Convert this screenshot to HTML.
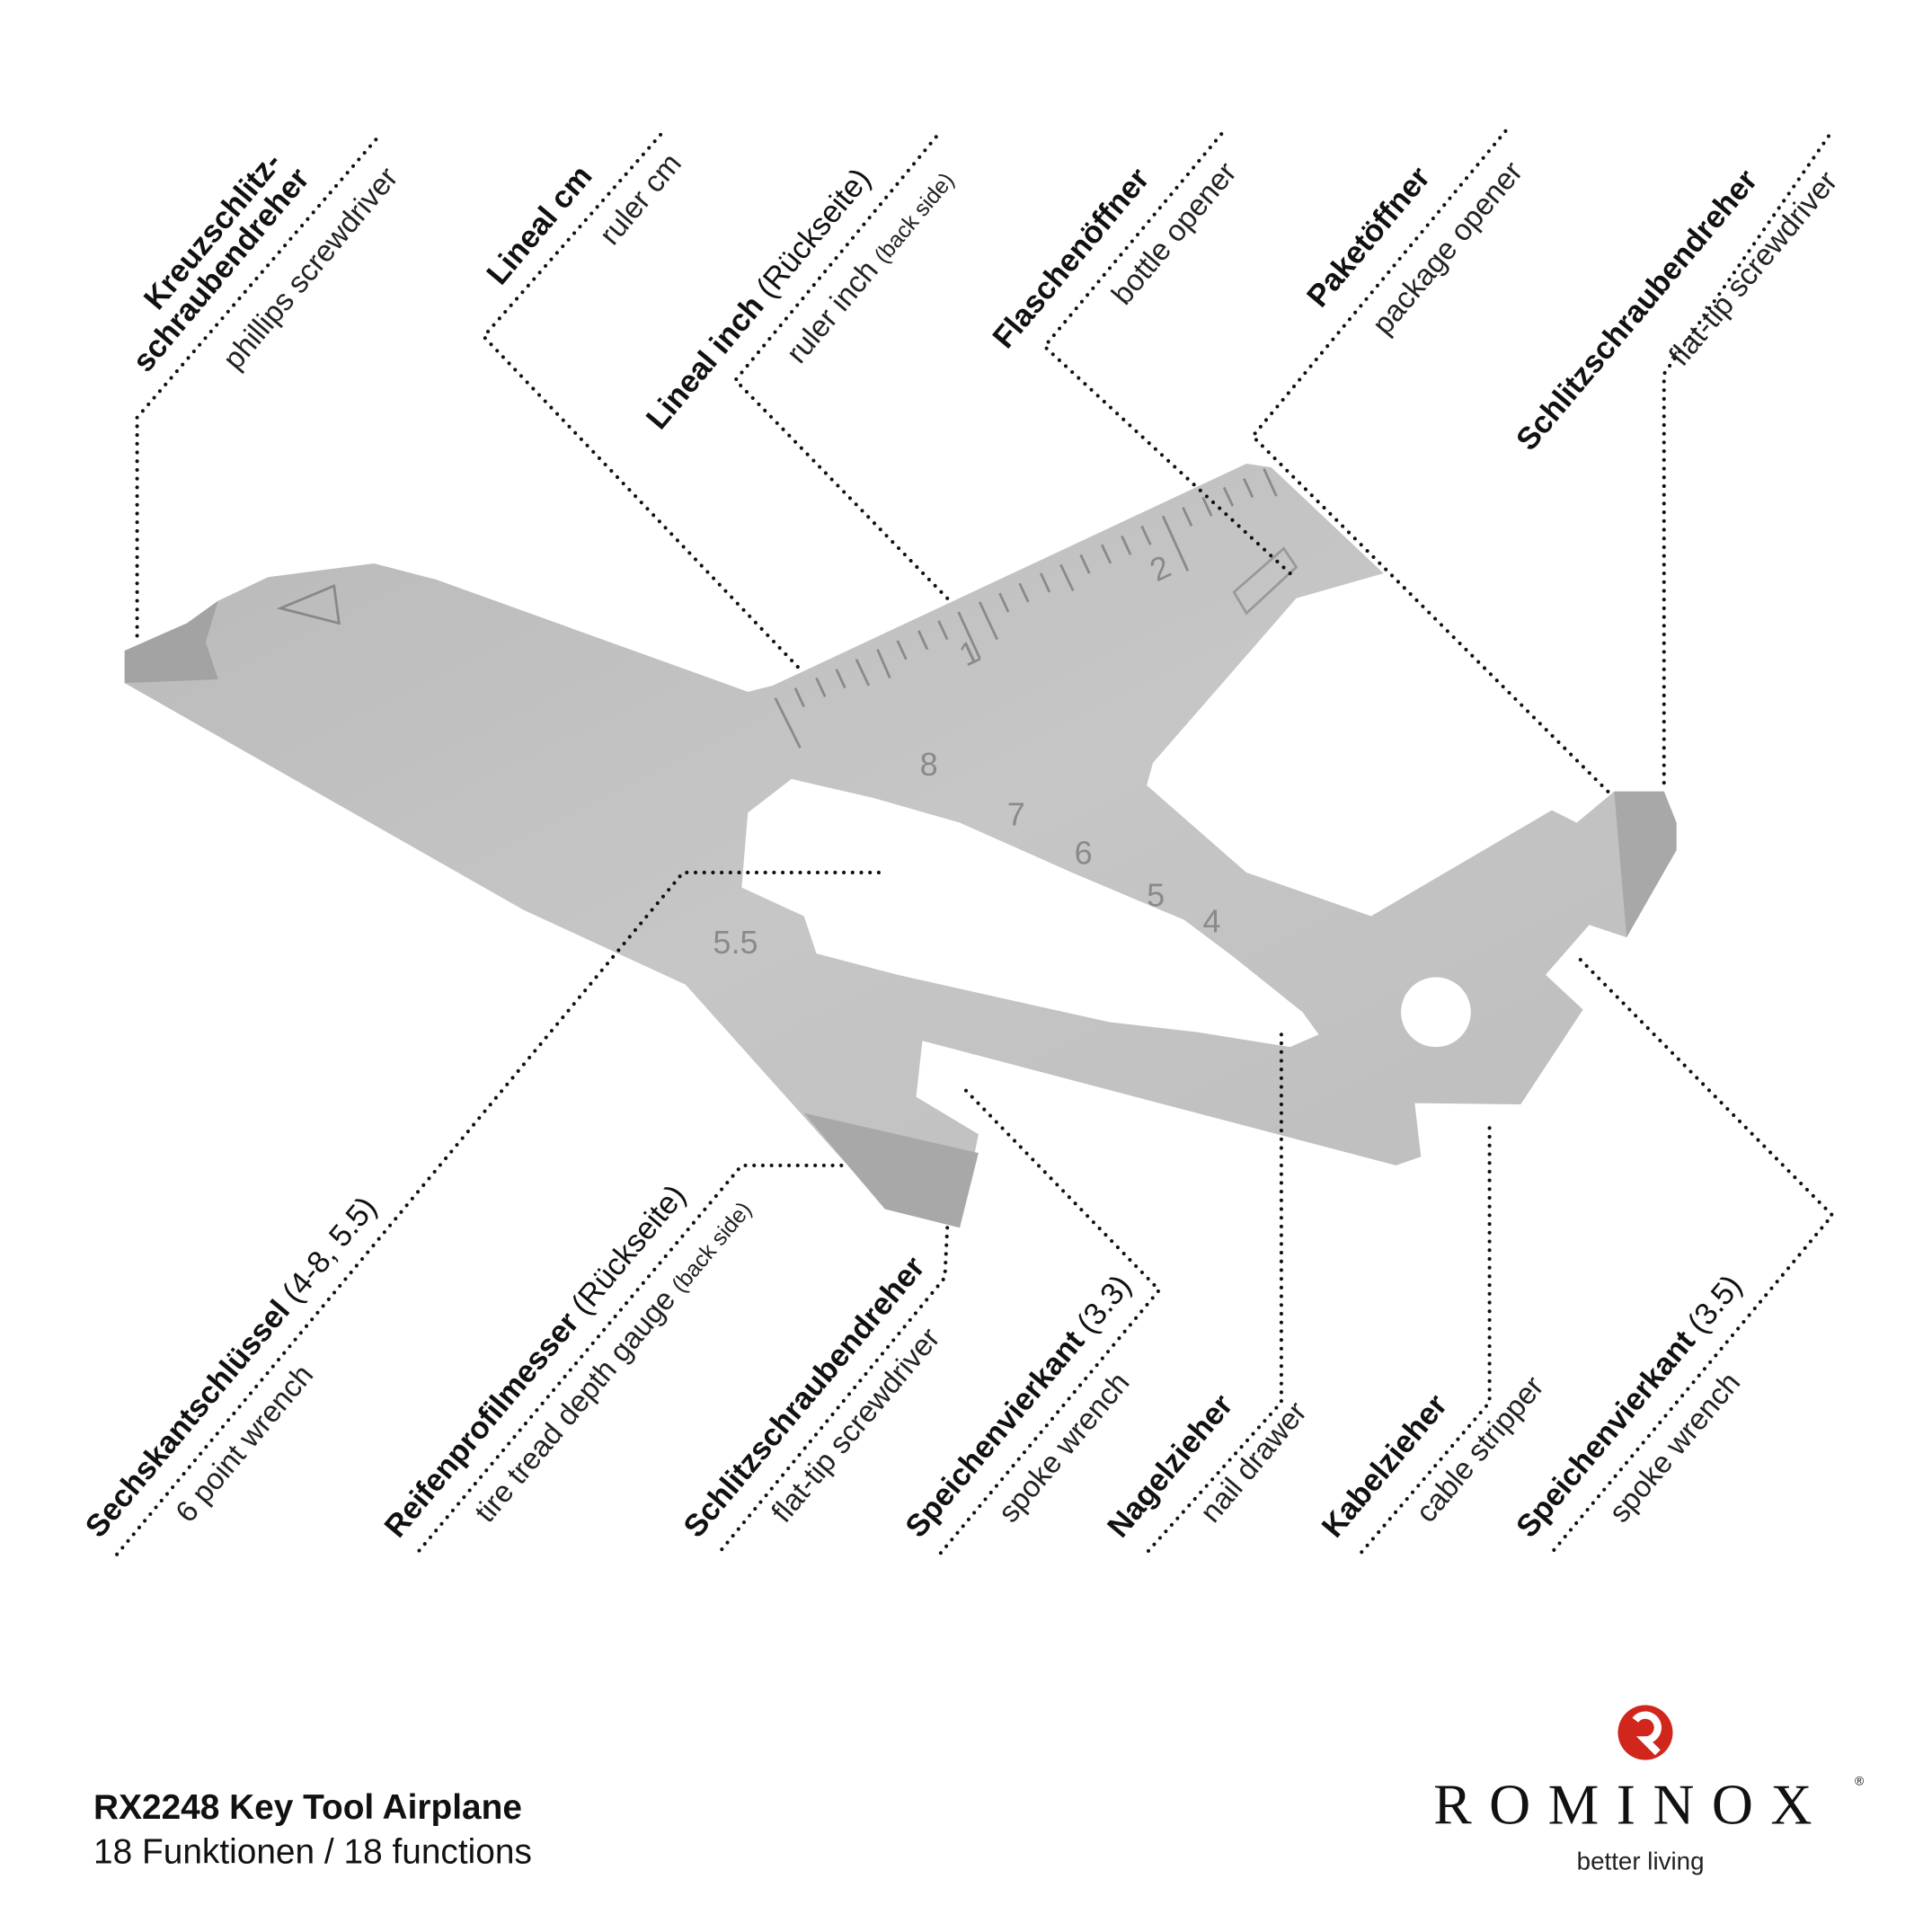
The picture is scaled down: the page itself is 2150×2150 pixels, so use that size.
<!DOCTYPE html>
<html><head><meta charset="utf-8"><style>html,body{margin:0;padding:0;background:#fff}svg{display:block}</style></head>
<body>
<svg width="2150" height="2150" viewBox="0 0 1550 1550" xmlns="http://www.w3.org/2000/svg" font-family="Liberation Sans, sans-serif">
<defs>
<linearGradient id="g" x1="0" y1="0" x2="1" y2="1">
<stop offset="0" stop-color="#b9b9b9"/><stop offset="0.5" stop-color="#c6c6c6"/><stop offset="1" stop-color="#bdbdbd"/></linearGradient>
</defs>
<path fill="url(#g)" fill-rule="evenodd" d="M100,522 L150,500 L175,482 L215,463 L300,452 L350,465 L600,555 L620,550 L1000,372 L1020,375 L1110,460 L1040,480 L925,612 L920,630 L1000,700 L1100,735 L1245,650 L1265,660 L1295,635 L1335,635 L1345,660 L1345,682 L1305,752 L1275,742 L1240,782 L1270,810 L1220,886 L1135,885 L1140,928 L1120,935 L740,835 L735,880 L785,910 L770,985 L710,970 L680,935 L550,790 L420,730 L100,548 Z
M600,652 L635,625 L700,640 L770,660 L860,700 L950,738 L990,768 L1045,812 L1058,830 L1035,840 L960,828 L890,820 L800,800 L720,782 L655,765 L645,735 L595,712 Z"/>
<path fill="#a3a3a3" d="M100,522 L150,500 L175,482 L165,515 L175,545 L100,548 Z"/>
<path fill="#a8a8a8" d="M1295,635 L1335,635 L1345,660 L1345,682 L1305,752 Z"/>
<path fill="#a8a8a8" d="M645,893 L785,925 L770,985 L710,970 Z"/>
<path d="M225,488 L268,470 L272,500 Z" fill="none" stroke="#888" stroke-width="2"/>
<circle cx="1152" cy="812" r="28" fill="#fff"/>
<path d="M990,475 L1030,440 L1040,455 L1000,492 Z" fill="none" stroke="#999" stroke-width="2"/>
<g stroke="#8a8a8a" stroke-width="2">
<line x1="622" y1="560" x2="642" y2="600"/>
<line x1="638" y1="552" x2="645" y2="567"/><line x1="655" y1="544" x2="662" y2="559"/><line x1="671" y1="537" x2="678" y2="552"/><line x1="687" y1="529" x2="697" y2="550"/><line x1="704" y1="521" x2="714" y2="544"/><line x1="720" y1="514" x2="727" y2="529"/><line x1="737" y1="506" x2="744" y2="521"/><line x1="753" y1="498" x2="760" y2="513"/><line x1="769" y1="491" x2="786" y2="528"/><line x1="786" y1="483" x2="800" y2="513"/><line x1="802" y1="476" x2="809" y2="491"/><line x1="818" y1="468" x2="825" y2="483"/><line x1="835" y1="460" x2="842" y2="475"/><line x1="851" y1="453" x2="861" y2="474"/><line x1="867" y1="445" x2="874" y2="460"/><line x1="884" y1="437" x2="891" y2="452"/><line x1="900" y1="430" x2="907" y2="445"/><line x1="916" y1="422" x2="923" y2="437"/><line x1="933" y1="414" x2="953" y2="458"/><line x1="949" y1="407" x2="956" y2="422"/><line x1="965" y1="399" x2="972" y2="414"/><line x1="982" y1="391" x2="989" y2="406"/><line x1="998" y1="384" x2="1005" y2="399"/><line x1="1014" y1="376" x2="1024" y2="398"/>
</g>
<g fill="#8a8a8a" font-size="26">
<text x="775" y="535" transform="rotate(-25 775 535)">1</text>
<text x="928" y="467" transform="rotate(-25 928 467)">2</text>
<text x="738" y="622">8</text><text x="808" y="662">7</text><text x="862" y="693">6</text><text x="920" y="727">5</text><text x="965" y="748">4</text><text x="572" y="765">5.5</text>
</g>
<g fill="none" stroke="#111" stroke-width="3" stroke-linecap="round" stroke-dasharray="0 7">
<path d="M110,510 L110,335 L305,108"/>
<path d="M640,535 L388,270 L530,108"/>
<path d="M760,480 L590,305 L755,105"/>
<path d="M1035,460 L838,278 L982,105"/>
<path d="M1290,635 L1005,350 L1208,105"/>
<path d="M1335,628 L1335,300 L1470,105"/>
<path d="M705,700 L548,700 L93,1248"/>
<path d="M675,935 L595,935 L333,1248"/>
<path d="M760,985 L758,1025 L575,1248"/>
<path d="M775,875 L930,1035 L753,1248"/>
<path d="M1028,830 L1028,1125 L918,1248"/>
<path d="M1195,905 L1195,1125 L1090,1248"/>
<path d="M1268,770 L1470,975 L1243,1248"/>
</g>
<g font-size="25" fill="#111">
<g font-weight="bold">
<text transform="translate(127,250) rotate(-50)">Kreuzschlitz-</text>
<text transform="translate(118,300) rotate(-50)">schraubendreher</text>
<text transform="translate(402,230) rotate(-50)">Lineal cm</text>
<text transform="translate(530,346) rotate(-50)">Lineal inch <tspan font-weight="normal">(Rückseite)</tspan></text>
<text transform="translate(808,281) rotate(-50)">Flaschenöffner</text>
<text transform="translate(1060,248) rotate(-50)">Paketöffner</text>
<text transform="translate(1228,363) rotate(-50)">Schlitzschraubendreher</text>
<text transform="translate(80,1235) rotate(-50)">Sechskantschlüssel <tspan font-weight="normal">(4-8, 5.5)</tspan></text>
<text transform="translate(320,1235) rotate(-50)">Reifenprofilmesser <tspan font-weight="normal">(Rückseite)</tspan></text>
<text transform="translate(560,1235) rotate(-50)">Schlitzschraubendreher</text>
<text transform="translate(738,1235) rotate(-50)">Speichenvierkant <tspan font-weight="normal">(3.3)</tspan></text>
<text transform="translate(900,1235) rotate(-50)">Nagelzieher</text>
<text transform="translate(1072,1235) rotate(-50)">Kabelzieher</text>
<text transform="translate(1228,1235) rotate(-50)">Speichenvierkant <tspan font-weight="normal">(3.5)</tspan></text>
</g>
<g font-size="24" fill="#222">
<text transform="translate(190,298) rotate(-50)">phillips screwdriver</text>
<text transform="translate(492,198) rotate(-50)">ruler cm</text>
<text transform="translate(642,293) rotate(-50)">ruler inch <tspan font-size="18">(back side)</tspan></text>
<text transform="translate(903,246) rotate(-50)">bottle opener</text>
<text transform="translate(1112,270) rotate(-50)">package opener</text>
<text transform="translate(1350,295) rotate(-50)">flat-tip screwdriver</text>
<text transform="translate(152,1223) rotate(-50)">6 point wrench</text>
<text transform="translate(392,1223) rotate(-50)">tire tread depth gauge <tspan font-size="18">(back side)</tspan></text>
<text transform="translate(630,1223) rotate(-50)">flat-tip screwdriver</text>
<text transform="translate(812,1223) rotate(-50)">spoke wrench</text>
<text transform="translate(974,1223) rotate(-50)">nail drawer</text>
<text transform="translate(1147,1223) rotate(-50)">cable stripper</text>
<text transform="translate(1302,1223) rotate(-50)">spoke wrench</text>
</g>
</g>
<text x="75" y="1459" font-size="28" font-weight="bold" fill="#111">RX2248 Key Tool Airplane</text>
<text x="75" y="1495" font-size="28" fill="#111">18 Funktionen / 18 functions</text>
<circle cx="1320" cy="1390" r="22" fill="#d0261c"/>
<path d="M1312,1380 a10,10 0 1 1 8,16 l10,10" fill="none" stroke="#fff" stroke-width="6"/>
<text x="1150" y="1463" font-family="Liberation Serif, serif" font-size="46" letter-spacing="14" fill="#111">ROMINOX</text>
<text x="1488" y="1432" font-size="10" fill="#111">®</text>
<text x="1265" y="1500" font-size="20" fill="#222">better living</text>
</svg>
</body></html>
